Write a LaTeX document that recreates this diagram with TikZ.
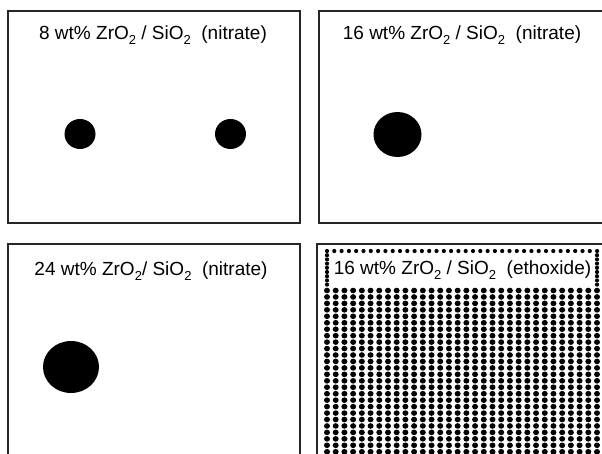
\documentclass[tikz,border=0pt]{standalone}
\usepackage{fontspec}
\setmainfont{Liberation Sans}
\newcommand{\subtwo}{\raisebox{-5.5pt}{\fontsize{13}{13}\selectfont 2}}

\begin{document}
\begin{tikzpicture}[x=1pt, y=-1pt, line width=1.1pt,
  titel/.style={anchor=base, font=\fontsize{19}{22}\selectfont, inner sep=0pt}]
  \useasboundingbox (0,0) rectangle (602,453);
  % panel 1: 8 wt% (nitrate)
  \draw[black!85] (8,11) rectangle (300,223);
  \node[titel] (t1) at (153,39) {8 wt\% ZrO\subtwo\ / SiO\subtwo\ \ (nitrate)};
  \fill (80,134) ellipse (15.5pt and 15pt);
  \fill (230.5,134) ellipse (15.5pt and 15pt);
  % panel 2: 16 wt% (nitrate)
  \draw[black!85] (319,11) rectangle (611,223);
  \node[titel] (t2) at (462,39) {16 wt\% ZrO\subtwo\ / SiO\subtwo\ \ (nitrate)};
  \fill (397.5,134.5) ellipse (24pt and 22.5pt);
  % panel 3: 24 wt% (nitrate)
  \draw[black!85] (8,244) rectangle (300,460);
  \node[titel] (t3) at (151,275) {24 wt\% ZrO\subtwo/ SiO\subtwo\ \ (nitrate)};
  \fill (71,367) ellipse (28pt and 26pt);
  % panel 4: 16 wt% (ethoxide)
  \draw[black!85] (317,244) rectangle (611,460);
  \node[titel] (t4) at (462.5,274) {16 wt\% ZrO\subtwo\ / SiO\subtwo\ \ (ethoxide)};
  % punktrand um den titel
  \foreach \i in {0,...,37}
    \fill (327+\i*7.3,251) circle (2.1pt);
  \foreach \j in {1,...,8} {
    \fill (327,251+\j*4.2) circle (2.1pt);
    \fill (597,251+\j*4.2) circle (2.1pt);
  }
  % punktraster
  \foreach \i in {0,...,31}
    \foreach \j in {0,...,25}
      \fill (327+\i*8.71,290.5+\j*6.45) ellipse (3.0pt and 2.8pt);
\end{tikzpicture}
\end{document}
